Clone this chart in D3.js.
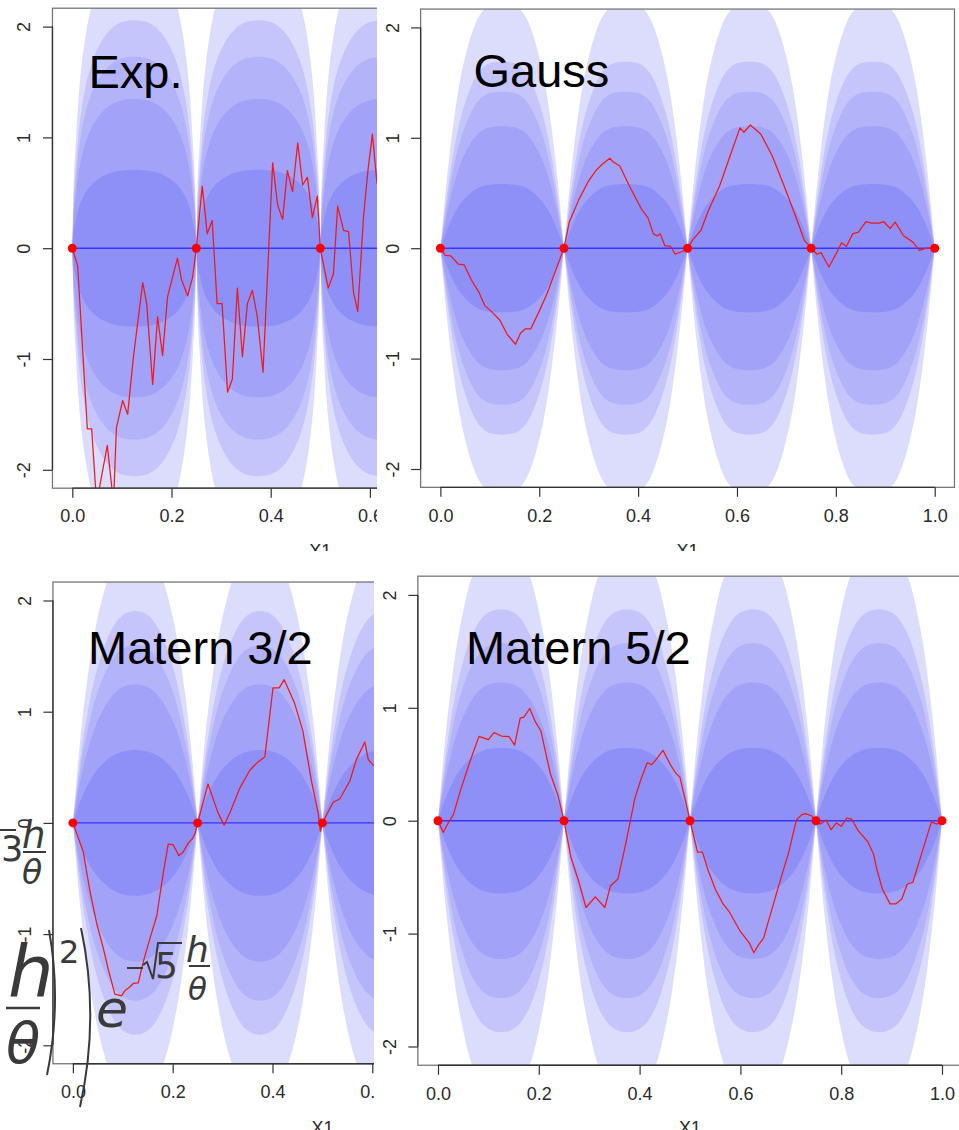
<!DOCTYPE html>
<html><head><meta charset="utf-8">
<script src="https://cdn.jsdelivr.net/npm/d3@7"></script>
<style>body{margin:0;background:#fff}svg{display:block}</style>
</head><body>
<svg id="c" width="959" height="1130"></svg>
<script>
// ---------- data ----------
const knotsX = [0, 0.25, 0.5, 0.75, 1];
const knotsY = [0, 0, 0, 0, 0];
const xTicks = [0, 0.2, 0.4, 0.6, 0.8, 1.0];
const xTickLabels = ["0.0", "0.2", "0.4", "0.6", "0.8", "1.0"];
const yTicks = [-2, -1, 0, 1, 2];
const yTickLabels = ["-2", "-1", "0", "1", "2"];
const panelTitles = ["Exp.", "Gauss", "Matern 3/2", "Matern 5/2"];
// normal quantiles of the nested bands: 99%, 95%, 90%, 80%, 50%
const bandQuantiles = [2.576, 1.960, 1.645, 1.282, 0.674];
// half-arch shape of the predictive sd (u = distance to knot / half spacing)
const profileU     = [0, 0.02, 0.05, 0.1, 0.15, 0.2, 0.3, 0.4, 0.5, 0.6, 0.7, 0.8, 0.9, 1];
const profileExp   = [0, 0.20, 0.33, 0.50, 0.61, 0.69, 0.80, 0.87, 0.92, 0.955, 0.978, 0.992, 0.998, 1];
const profileGauss = [0, 0.055, 0.14, 0.27, 0.385, 0.49, 0.66, 0.78, 0.87, 0.935, 0.972, 0.991, 0.998, 1];
const profileM32   = [0, 0.055, 0.135, 0.26, 0.37, 0.46, 0.62, 0.74, 0.83, 0.90, 0.95, 0.98, 0.995, 1];
const profileM52   = [0, 0.055, 0.135, 0.26, 0.37, 0.47, 0.635, 0.755, 0.85, 0.915, 0.96, 0.985, 0.997, 1];
const sdMax = [1.05, 0.862, 0.972, 0.955];

const expX = [0,0.0108,0.0303,0.039,0.049,0.0706,0.083,0.089,0.1015,0.1116,0.123,0.142,0.150,0.162,0.172,0.182,0.192,0.212,0.2205,0.2326,0.2427,0.25,
  0.262,0.272,0.282,0.292,0.302,0.313,0.3227,0.3328,0.343,0.353,0.363,0.373,0.3845,0.404,0.414,0.424,0.4336,0.444,0.4545,0.4645,0.474,0.484,0.494,0.5,
  0.516,0.5265,0.535,0.547,0.557,0.567,0.5755,0.587,0.596,0.605,0.614,0.63];
const expY = [0,-0.16,-1.63,-1.63,-2.3,-1.78,-2.3,-1.62,-1.375,-1.50,-0.99,-0.31,-0.50,-1.23,-0.62,-0.97,-0.44,-0.09,-0.29,-0.43,-0.26,0,
  0.56,0.13,0.25,-0.50,-0.50,-1.30,-1.18,-0.36,-0.98,-0.50,-0.38,-0.62,-1.12,0.77,0.39,0.26,0.70,0.51,0.95,0.57,0.64,0.275,0.47,0,
  -0.36,-0.23,0.38,0.16,0.15,-0.40,-0.57,0.275,0.70,1.03,0.60,0.3];

const gaussX = [0,0.0099,0.021,0.0365,0.048,0.063,0.078,0.0897,0.1026,0.12,0.135,0.152,0.162,0.172,0.183,0.2,0.215,0.230,0.25,
  0.261,0.280,0.2986,0.314,0.3275,0.3427,0.35,0.363,0.382,0.399,0.4065,0.42,0.431,0.439,0.445,0.454,0.466,0.475,0.489,0.5,
  0.511,0.527,0.542,0.565,0.584,0.606,0.614,0.627,0.648,0.671,0.694,0.717,0.736,0.75,
  0.762,0.77,0.786,0.80,0.8116,0.8214,0.834,0.8457,0.861,0.872,0.8875,0.897,0.910,0.92,0.937,0.956,0.969,0.983,1];
const gaussY = [0,-0.065,-0.07,-0.145,-0.15,-0.29,-0.40,-0.52,-0.57,-0.65,-0.78,-0.87,-0.77,-0.73,-0.73,-0.57,-0.42,-0.24,0,
  0.24,0.44,0.60,0.70,0.76,0.815,0.78,0.745,0.565,0.42,0.356,0.275,0.13,0.11,0.13,0.023,0.016,-0.055,-0.03,0,
  0.08,0.16,0.34,0.566,0.81,1.09,1.05,1.116,1.035,0.84,0.58,0.31,0.074,0,
  -0.055,-0.04,-0.17,-0.055,0.05,0.016,0.13,0.146,0.24,0.227,0.227,0.24,0.178,0.236,0.113,0.055,-0.02,0,0];

const m32X = [0,0.0207,0.034,0.0474,0.0608,0.0708,0.0841,0.0975,0.104,0.114,0.121,0.131,0.141,0.154,0.168,0.181,0.191,0.2013,0.2124,0.221,0.231,0.2397,0.2444,0.25,
  0.2708,0.2908,0.303,0.3145,0.3345,0.3546,0.368,0.3846,0.401,0.4134,0.4234,0.444,0.461,0.478,0.4915,0.496,0.5,
  0.5215,0.535,0.555,0.568,0.585,0.592,0.602,0.62];
const m32Y = [0,-0.26,-0.61,-0.90,-1.125,-1.316,-1.54,-1.556,-1.51,-1.476,-1.444,-1.438,-1.25,-1.045,-0.837,-0.454,-0.19,-0.198,-0.294,-0.262,-0.182,-0.14,-0.10,0,
  0.35,0.09,-0.02,0.09,0.313,0.473,0.537,0.594,1.214,1.214,1.288,1.08,0.824,0.377,0.089,-0.077,0,
  0.185,0.217,0.377,0.569,0.728,0.569,0.52,0.45];

const m52X = [0,0.0104,0.0216,0.0306,0.044,0.0626,0.0812,0.0999,0.111,0.126,0.141,0.152,0.163,0.1706,0.182,0.193,0.204,0.2228,0.2377,0.25,
  0.2638,0.2787,0.2936,0.3122,0.331,0.342,0.357,0.372,0.3905,0.4017,0.415,0.424,0.433,0.4464,0.461,0.4724,0.48,0.5,
  0.515,0.5246,0.5358,0.5507,0.5656,0.577,0.599,0.618,0.6267,0.636,0.646,0.6624,0.681,0.696,0.711,0.722,0.729,0.7407,0.75,
  0.759,0.77,0.78,0.7906,0.80,0.811,0.821,0.834,0.8525,0.864,0.871,0.882,0.897,0.908,0.92,0.931,0.942,0.9605,0.979,0.99,1];
const m52Y = [0,-0.104,-0.01,0.054,0.26,0.513,0.747,0.718,0.78,0.75,0.744,0.67,0.908,0.918,0.994,0.877,0.797,0.418,0.228,0,
  -0.326,-0.53,-0.769,-0.674,-0.769,-0.579,-0.516,-0.215,0.196,0.354,0.513,0.497,0.544,0.623,0.497,0.418,0.386,0,
  -0.278,-0.278,-0.437,-0.611,-0.737,-0.80,-0.975,-1.085,-1.17,-1.10,-1.04,-0.785,-0.50,-0.278,0.006,0.054,0.063,0.044,0,
  -0.03,0.006,-0.08,-0.02,-0.05,0.022,0.013,-0.09,-0.184,-0.294,-0.437,-0.61,-0.737,-0.737,-0.696,-0.563,-0.547,-0.278,-0.01,-0.03,0];

// ---------- styles ----------
const bandColors = ["#dcdcfd", "#c5c5fb", "#b3b3fa", "#a2a2f8", "#8f8ff8"];
const FONT = "'Liberation Sans', Arial, Helvetica, sans-serif";

// ---------- layout of the four panels (pixel geometry) ----------
const panels = [
  {i:0, px:expX,   py:expY,   prof:profileExp,   clip:[0,0,377,551],     x0:72.3,  xu:496,   y0:248.2, yu:110.8, tx:88.5, ty:87.5, xl:557},
  {i:1, px:gaussX, py:gaussY, prof:profileGauss, clip:[377,0,582,551],   x0:440.4, xu:494.3, y0:248.2, yu:110.4, tx:473.5, ty:87,  xl:557},
  {i:2, px:m32X,   py:m32Y,   prof:profileM32,   clip:[0,566,374,564],   x0:72.9,  xu:499,   y0:822.9, yu:111.2, tx:88,   ty:663.6, xl:1134},
  {i:3, px:m52X,   py:m52Y,   prof:profileM52,   clip:[374,566,585,564], x0:438,   xu:504,   y0:820.7, yu:112.9, tx:466,  ty:663.6, xl:1134}
];
const YL = 2.166;

const svg = d3.select("#c");
const defs = svg.append("defs");

panels.forEach(P => {
  const [cx, cy, cw, ch] = P.clip;
  defs.append("clipPath").attr("id", "pc" + P.i)
    .append("rect").attr("x", cx).attr("y", cy).attr("width", cw).attr("height", ch);
  const x = d3.scaleLinear().domain([-0.04, 1.04]).range([P.x0 - 0.04 * P.xu, P.x0 + 1.04 * P.xu]);
  const y = d3.scaleLinear().domain([-YL, YL]).range([P.y0 + YL * P.yu, P.y0 - YL * P.yu]);
  const bl = x(-0.04), br = x(1.04), bt = y(YL), bb = y(-YL);
  defs.append("clipPath").attr("id", "bx" + P.i)
    .append("rect").attr("x", bl).attr("y", bt).attr("width", br - bl).attr("height", bb - bt);

  const g = svg.append("g").attr("clip-path", `url(#pc${P.i})`);
  g.append("rect").attr("x", cx).attr("y", cy).attr("width", cw).attr("height", ch).attr("fill", "#fff");

  const plot = g.append("g").attr("clip-path", `url(#bx${P.i})`);
  const sdm = sdMax[P.i];
  bandQuantiles.forEach((z, bi) => {
    for (let k = 0; k < knotsX.length - 1; k++) {
      const a = knotsX[k], b = knotsX[k + 1], h = (b - a) / 2;
      const pts = [];
      profileU.forEach((u, j) => pts.push({x: a + u * h, s: sdm * P.prof[j]}));
      for (let j = profileU.length - 2; j >= 0; j--) pts.push({x: b - profileU[j] * h, s: sdm * P.prof[j]});
      const area = d3.area().x(d => x(d.x)).y0(d => y(-z * d.s)).y1(d => y(z * d.s))
        .curve(d3.curveMonotoneX);
      plot.append("path").attr("d", area(pts)).attr("fill", bandColors[bi]);
    }
  });
  plot.append("path").attr("d", d3.line().x(d => x(d)).y(() => y(0))([0, 1]))
    .attr("stroke", "#3535ff").attr("stroke-width", 1.4).attr("fill", "none");
  const line = d3.line().x((d, j) => x(P.px[j])).y(d => y(d));
  plot.append("path").attr("d", line(P.py)).attr("stroke", "#f01818").attr("stroke-width", 1.25)
    .attr("fill", "none").attr("stroke-linejoin", "round");
  plot.selectAll("circle.k").data(knotsX).enter().append("circle")
    .attr("cx", d => x(d)).attr("cy", (d, j) => y(knotsY[j])).attr("r", 4.5).attr("fill", "#ff0000");

  g.append("rect").attr("x", bl).attr("y", bt).attr("width", br - bl).attr("height", bb - bt)
    .attr("fill", "none").attr("stroke", "#777").attr("stroke-width", 1.3);
  const xa = d3.axisBottom(x).tickValues(xTicks).tickFormat((d, j) => xTickLabels[j]).tickSize(9.5).tickPadding(12);
  const ga = g.append("g").attr("transform", `translate(0,${bb})`).call(xa);
  ga.select(".domain").attr("d", `M${x(0)},0H${x(1)}`).attr("stroke", "#333").attr("stroke-width", 1.3);
  ga.selectAll(".tick line").attr("stroke", "#333").attr("stroke-width", 1.2);
  ga.selectAll(".tick text").attr("font-family", FONT).attr("font-size", 18).attr("fill", "#2a2a2a");
  const ya = d3.axisLeft(y).tickValues(yTicks).tickFormat((d, j) => yTickLabels[j]).tickSize(9.5).tickPadding(0);
  const gy = g.append("g").attr("transform", `translate(${bl},0)`).call(ya);
  gy.select(".domain").attr("d", `M0,${y(-2)}V${y(2)}`).attr("stroke", "#333").attr("stroke-width", 1.3);
  gy.selectAll(".tick line").attr("stroke", "#333").attr("stroke-width", 1.2);
  gy.selectAll(".tick text").attr("font-family", FONT).attr("font-size", 18).attr("fill", "#2a2a2a")
    .attr("text-anchor", "middle").attr("x", 0).attr("dy", 0)
    .attr("transform", "translate(-28,0) rotate(-90) translate(0,6)");
  g.append("text").attr("x", x(0.5)).attr("y", P.xl).attr("text-anchor", "middle")
    .attr("font-family", FONT).attr("font-size", 18).attr("fill", "#2a2a2a").text("X1");
  g.append("text").attr("x", P.tx).attr("y", P.ty).attr("font-family", FONT).attr("font-size", 47)
    .attr("fill", "#000").text(panelTitles[P.i]);
});

// ---------- overlapping formula fragments (from the slide behind) ----------
const F = svg.append("g").attr("fill", "#3a3a3a").attr("stroke", "none");
const MF = "'DejaVu Sans', sans-serif";
const stroke = (d, w) => F.append("path").attr("d", d).attr("stroke", "#3a3a3a").attr("stroke-width", w).attr("fill", "none");
stroke("M0,830H16", 2);
F.append("text").attr("x", 1).attr("y", 861).attr("font-family", MF).attr("font-size", 35).text("3");
F.append("text").attr("x", 22).attr("y", 848).attr("font-family", MF).attr("font-style", "italic").attr("font-size", 37).text("h");
stroke("M23,852H46", 2);
F.append("text").attr("x", 22).attr("y", 884).attr("font-family", MF).attr("font-style", "italic").attr("font-size", 33).text("θ");
F.append("text").attr("x", 8).attr("y", 996).attr("font-family", MF).attr("font-style", "italic").attr("font-size", 72).text("h");
stroke("M6,1008H40", 2.5);
F.append("text").attr("x", 6).attr("y", 1063).attr("font-family", MF).attr("font-style", "italic").attr("font-size", 56).text("θ");
stroke("M49,930 Q62,1002 47,1075", 2);
F.append("text").attr("x", 59).attr("y", 963).attr("font-family", MF).attr("font-size", 32).text("2");
stroke("M81,928 Q100,1017 80,1107", 2);
F.append("text").attr("x", 96).attr("y", 1027).attr("font-family", MF).attr("font-style", "italic").attr("font-size", 52).text("e");
stroke("M127,968H143", 2);
stroke("M143,965 L147,962 L153,979 L158,943 H182", 2);
F.append("text").attr("x", 155).attr("y", 978).attr("font-family", MF).attr("font-size", 36).text("5");
F.append("text").attr("x", 186).attr("y", 962).attr("font-family", MF).attr("font-style", "italic").attr("font-size", 36).text("h");
stroke("M189,966H210", 2);
F.append("text").attr("x", 188).attr("y", 1000).attr("font-family", MF).attr("font-style", "italic").attr("font-size", 31).text("θ");
</script>
</body></html>
